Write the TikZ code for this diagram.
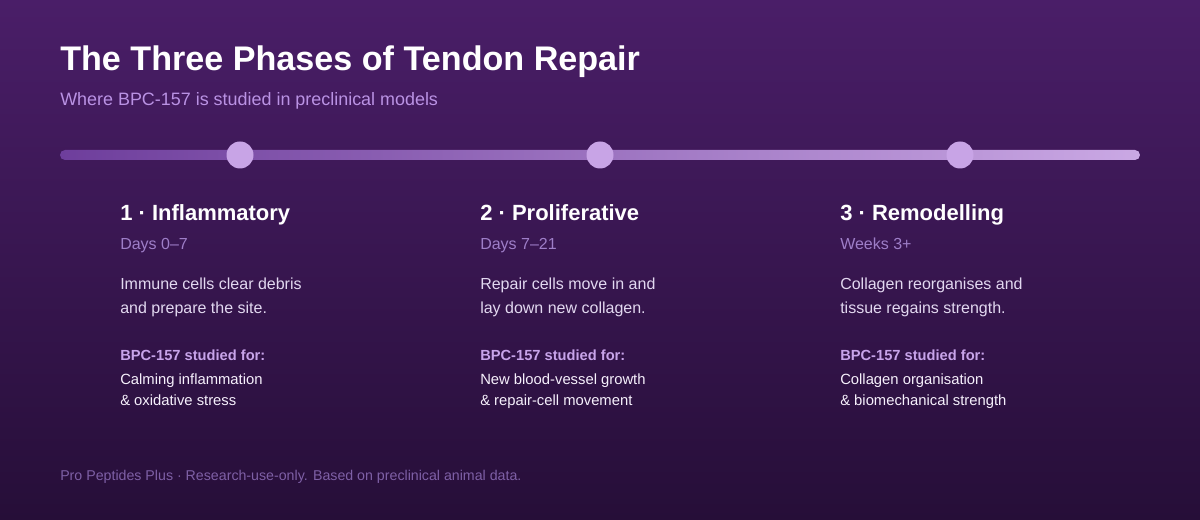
\documentclass[tikz,border=0pt]{standalone}
\usepackage{fontspec}
\setmainfont{Liberation Sans}
\usetikzlibrary{calc}

\definecolor{bgtop}{RGB}{74,30,104}
\definecolor{bgbot}{RGB}{38,14,56}
\definecolor{barleft}{RGB}{110,62,156}
\definecolor{barright}{RGB}{202,168,228}
\definecolor{dotfill}{RGB}{200,164,230}
\definecolor{subcol}{RGB}{186,146,228}
\definecolor{daycol}{RGB}{158,126,200}
\definecolor{bodycol}{RGB}{226,216,240}
\definecolor{studycol}{RGB}{200,164,234}
\definecolor{itemcol}{RGB}{246,240,252}
\definecolor{footcol}{RGB}{126,96,166}

\begin{document}
\begin{tikzpicture}[x=0.75pt,y=-0.75pt,
  txt/.style={anchor=base west, inner sep=0pt, align=left},
  phase/.style={txt, text=white, font=\fontsize{16.5}{20}\selectfont\bfseries},
  days/.style={txt, text=daycol, font=\fontsize{12}{18}\selectfont},
  body/.style={txt, text=bodycol, font=\fontsize{12}{18}\selectfont},
  study/.style={txt, text=studycol, font=\fontsize{11}{16.5}\selectfont\bfseries},
  item/.style={txt, text=itemcol, font=\fontsize{11.1}{16.5}\selectfont},
  dot/.style={circle, fill=dotfill, inner sep=0pt, minimum size=20.25pt}]

% background
\shade[top color=bgtop, bottom color=bgbot] (0,0) rectangle (1200,520);
\useasboundingbox (0,0) rectangle (1200,520);

% heading
\node (title) at (60,71) [txt, text=white, font=\fontsize{25.6}{30}\selectfont\bfseries] {The Three Phases of Tendon Repair};
\node (subtitle) at (60,105.5) [txt, text=subcol, font=\fontsize{13.45}{16}\selectfont] {Where BPC-157 is studied in preclinical models};

% timeline
\coordinate (L) at (60,150);
\coordinate (R) at (1140,160);
\shade[left color=barleft, right color=barright, rounded corners=3.75pt] (L) rectangle (R);

\node (D1) at (240,155) [dot] {};
\node (D2) at (600,155) [dot] {};
\node (D3) at (960,155) [dot] {};

% phase 1 (multi-line nodes sit on their last baseline)
\node (H1) at (120,221) [phase] {1 · Inflammatory};
\node (T1) at (120,250) [days] {Days 0–7};
\node (B1) at (120,314) [body] {Immune cells clear debris\\and prepare the site.};
\node (S1) at (120,360) [study] {BPC-157 studied for:};
\node (F1) at (120,406) [item] {Calming inflammation\\\& oxidative stress};

% phase 2
\node (H2) at (480,221) [phase] {2 · Proliferative};
\node (T2) at (480,250) [days] {Days 7–21};
\node (B2) at (480,314) [body] {Repair cells move in and\\lay down new collagen.};
\node (S2) at (480,360) [study] {BPC-157 studied for:};
\node (F2) at (480,406) [item] {New blood-vessel growth\\\& repair-cell movement};

% phase 3
\node (H3) at (840,221) [phase] {3 · Remodelling};
\node (T3) at (840,250) [days] {Weeks 3+};
\node (B3) at (840,314) [body] {Collagen reorganises and\\tissue regains strength.};
\node (S3) at (840,360) [study] {BPC-157 studied for:};
\node (F3) at (840,406) [item] {Collagen organisation\\\& biomechanical strength};

% footer
\node (foot) at (60,480) [txt, text=footcol, font=\fontsize{10.65}{14}\selectfont] {Pro Peptides Plus · Research-use-only. Based on preclinical animal data.};
\end{tikzpicture}
\end{document}
